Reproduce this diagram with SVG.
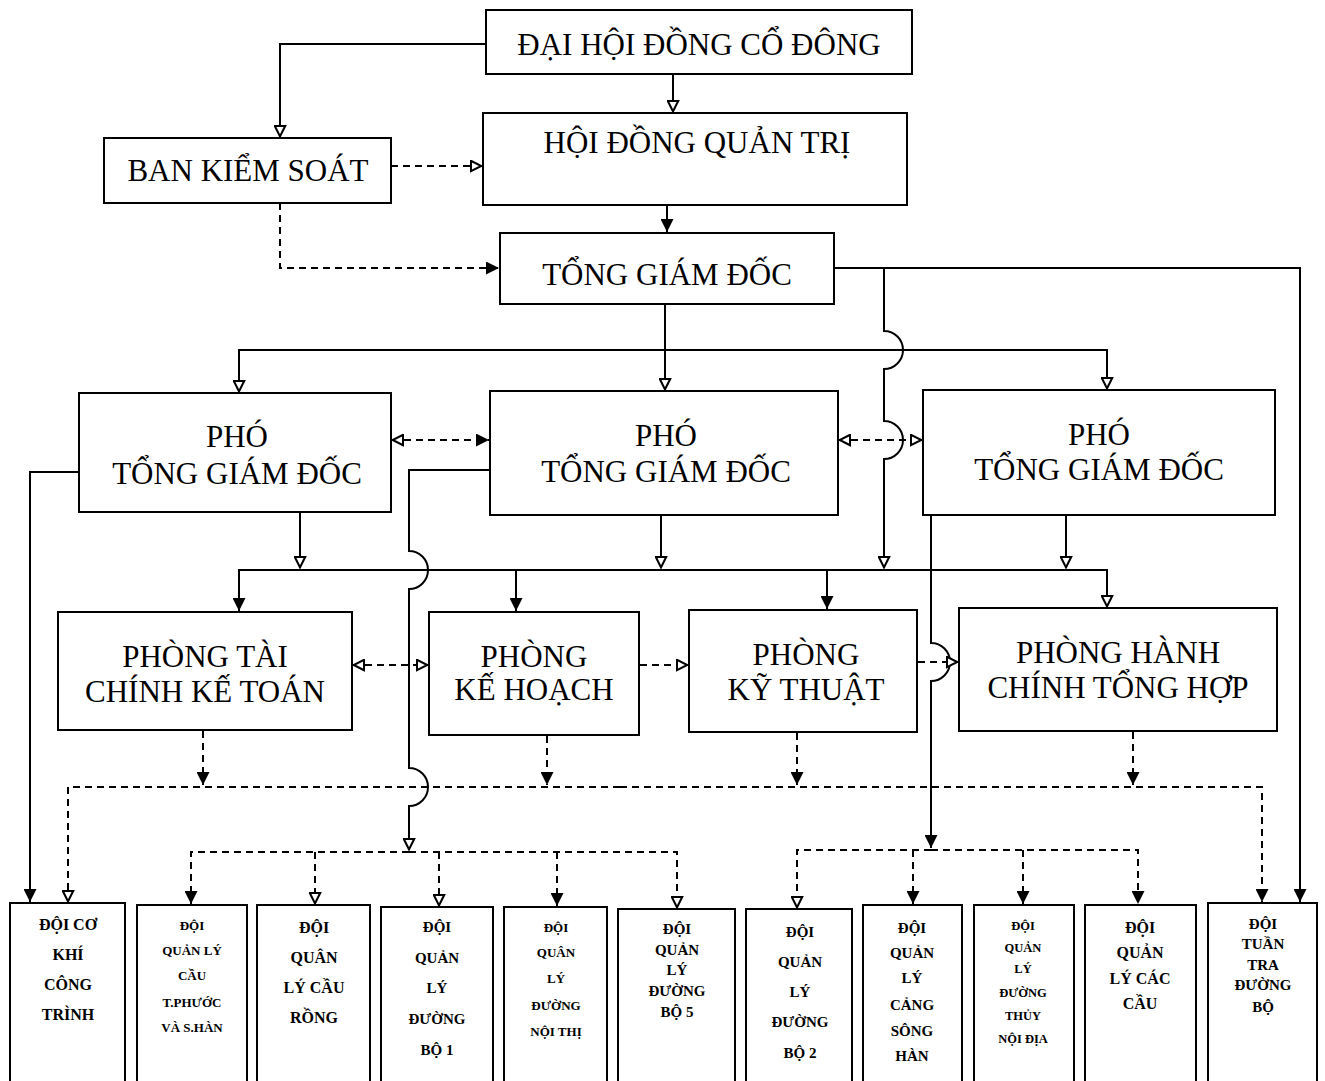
<svg xmlns="http://www.w3.org/2000/svg" width="1325" height="1081" viewBox="0 0 1325 1081">
<style>
.bx{fill:#fff;stroke:#000;stroke-width:2}
.t{font-family:"Liberation Serif","Times New Roman",serif;font-size:31px;text-anchor:middle;fill:#000}
.s{font-family:"Liberation Serif","Times New Roman",serif;font-weight:bold;text-anchor:middle;fill:#000}
.ln{fill:none;stroke:#000;stroke-width:2}
.ds{fill:none;stroke:#000;stroke-width:2;stroke-dasharray:7 5}
</style>
<defs>
<marker id="af" viewBox="0 0 10 10" refX="10" refY="5" markerWidth="13" markerHeight="13" markerUnits="userSpaceOnUse" orient="auto"><path d="M0,0 L10,5 L0,10 z" fill="#000"/></marker>
<marker id="ao" viewBox="0 0 10 10" refX="9.5" refY="5" markerWidth="13" markerHeight="13" markerUnits="userSpaceOnUse" orient="auto-start-reverse"><path d="M1,1 L9,5 L1,9 z" fill="#fff" stroke="#000" stroke-width="1.6"/></marker>
</defs>
<rect width="1325" height="1081" fill="#fff"/>

<g id="connectors">
<path class="ln" d="M486,44 H280 V137" marker-end="url(#ao)"/>
<path class="ln" d="M673,74 V112" marker-end="url(#ao)"/>
<path class="ln" d="M667,205 V232" marker-end="url(#af)"/>
<path class="ln" d="M834,268 H1300 V902" marker-end="url(#af)"/>
<path class="ln" d="M884,268 V331 A19,19 0 0 1 884,369 V421 A19,19 0 0 1 884,459 V568" marker-end="url(#ao)"/>
<path class="ln" d="M665,304 V390" marker-end="url(#ao)"/>
<path class="ln" d="M665,350 H239 V392" marker-end="url(#ao)"/>
<path class="ln" d="M665,350 H1107 V389" marker-end="url(#ao)"/>
<path class="ln" d="M79,472 H30 V902" marker-end="url(#af)"/>
<path class="ln" d="M300,512 V568" marker-end="url(#ao)"/>
<path class="ln" d="M661,515 V568" marker-end="url(#ao)"/>
<path class="ln" d="M1066,515 V568" marker-end="url(#ao)"/>
<path class="ln" d="M490,470 H409 V551 A19,19 0 0 1 409,589 V768 A19,19 0 0 1 409,806 V850" marker-end="url(#ao)"/>
<path class="ln" d="M931,515 V643 A19,19 0 0 1 931,681 V848" marker-end="url(#af)"/>
<path class="ln" d="M516,570 H239 V611" marker-end="url(#af)"/>
<path class="ln" d="M516,570 H1107 V607" marker-end="url(#ao)"/>
<path class="ln" d="M516,570 V611" marker-end="url(#af)"/>
<path class="ln" d="M827,570 V609" marker-end="url(#af)"/>

<path class="ds" d="M391,166 H482" marker-end="url(#ao)"/>
<path class="ds" d="M280,203 V268 H499" marker-end="url(#af)"/>
<path class="ds" d="M392,440 H489" marker-start="url(#ao)" marker-end="url(#af)"/>
<path class="ds" d="M839,440 H922" marker-start="url(#ao)" marker-end="url(#ao)"/>
<path class="ds" d="M353,665 H428" marker-start="url(#ao)" marker-end="url(#ao)"/>
<path class="ds" d="M640,665 H688" marker-start="url(#af)" marker-end="url(#ao)"/>
<path class="ds" d="M918,662 H958" marker-start="url(#af)" marker-end="url(#ao)"/>
<path class="ds" d="M203,731 V785" marker-end="url(#af)"/>
<path class="ds" d="M547,736 V785" marker-end="url(#af)"/>
<path class="ds" d="M797,733 V785" marker-end="url(#af)"/>
<path class="ds" d="M1133,732 V785" marker-end="url(#af)"/>
<path class="ds" d="M620,787 H68 V902" marker-end="url(#ao)"/>
<path class="ds" d="M620,787 H1262 V902" marker-end="url(#af)"/>
<path class="ds" d="M409,852 H191 V904" marker-end="url(#af)"/>
<path class="ds" d="M409,852 H677 V908" marker-end="url(#ao)"/>
<path class="ds" d="M315,852 V904" marker-end="url(#ao)"/>
<path class="ds" d="M439,852 V906" marker-end="url(#ao)"/>
<path class="ds" d="M557,852 V906" marker-end="url(#af)"/>
<path class="ds" d="M931,850 H797 V908" marker-end="url(#ao)"/>
<path class="ds" d="M931,850 H1138 V904" marker-end="url(#af)"/>
<path class="ds" d="M913,850 V904" marker-end="url(#af)"/>
<path class="ds" d="M1023,850 V904" marker-end="url(#af)"/>
</g>

<g id="dai-hoi"><rect class="bx" x="486" y="10" width="426" height="64"/><text class="t" x="699" y="55">ĐẠI HỘI ĐỒNG CỔ ĐÔNG</text></g>
<g id="hdqt"><rect class="bx" x="483" y="113" width="424" height="92"/><text class="t" x="697" y="153">HỘI ĐỒNG QUẢN TRỊ</text></g>
<g id="bks"><rect class="bx" x="104" y="138" width="287" height="65"/><text class="t" x="248" y="181">BAN KIỂM SOÁT</text></g>
<g id="tgd"><rect class="bx" x="500" y="233" width="334" height="71"/><text class="t" x="667" y="285">TỔNG GIÁM ĐỐC</text></g>
<g id="pho-1"><rect class="bx" x="79" y="393" width="312" height="119"/><text class="t" x="237" y="447">PHÓ</text><text class="t" x="237" y="484">TỔNG GIÁM ĐỐC</text></g>
<g id="pho-2"><rect class="bx" x="490" y="391" width="348" height="124"/><text class="t" x="666" y="446">PHÓ</text><text class="t" x="666" y="482">TỔNG GIÁM ĐỐC</text></g>
<g id="pho-3"><rect class="bx" x="923" y="390" width="352" height="125"/><text class="t" x="1099" y="445">PHÓ</text><text class="t" x="1099" y="480">TỔNG GIÁM ĐỐC</text></g>
<g id="p-tckt"><rect class="bx" x="58" y="612" width="294" height="118"/><text class="t" x="205" y="667">PHÒNG TÀI</text><text class="t" x="205" y="702">CHÍNH KẾ TOÁN</text></g>
<g id="p-kh"><rect class="bx" x="429" y="612" width="210" height="123"/><text class="t" x="534" y="667">PHÒNG</text><text class="t" x="534" y="700">KẾ HOẠCH</text></g>
<g id="p-kt"><rect class="bx" x="689" y="610" width="228" height="122"/><text class="t" x="806" y="665">PHÒNG</text><text class="t" x="806" y="700">KỸ THUẬT</text></g>
<g id="p-hcth"><rect class="bx" x="959" y="608" width="318" height="123"/><text class="t" x="1118" y="663">PHÒNG HÀNH</text><text class="t" x="1118" y="698">CHÍNH TỔNG HỢP</text></g>

<g id="d1"><rect class="bx" x="10" y="903" width="115" height="190"/><text class="s" font-size="16" x="68" y="930">ĐỘI CƠ</text><text class="s" font-size="16" x="68" y="960">KHÍ</text><text class="s" font-size="16" x="68" y="990">CÔNG</text><text class="s" font-size="16" x="68" y="1020">TRÌNH</text></g>
<g id="d2"><rect class="bx" x="137" y="905" width="110" height="190"/><text class="s" font-size="13" x="192" y="930">ĐỘI</text><text class="s" font-size="13" x="192" y="955">QUẢN LÝ</text><text class="s" font-size="13" x="192" y="980">CẦU</text><text class="s" font-size="13" x="192" y="1007">T.PHƯỚC</text><text class="s" font-size="13" x="192" y="1032">VÀ S.HÀN</text></g>
<g id="d3"><rect class="bx" x="257" y="905" width="113" height="190"/><text class="s" font-size="16" x="314" y="933">ĐỘI</text><text class="s" font-size="16" x="314" y="963">QUÂN</text><text class="s" font-size="16" x="314" y="993">LÝ CẦU</text><text class="s" font-size="16" x="314" y="1023">RỒNG</text></g>
<g id="d4"><rect class="bx" x="381" y="907" width="112" height="190"/><text class="s" font-size="15" x="437" y="932">ĐỘI</text><text class="s" font-size="15" x="437" y="963">QUẢN</text><text class="s" font-size="15" x="437" y="993">LÝ</text><text class="s" font-size="15" x="437" y="1024">ĐƯỜNG</text><text class="s" font-size="15" x="437" y="1055">BỘ 1</text></g>
<g id="d5"><rect class="bx" x="504" y="907" width="103" height="190"/><text class="s" font-size="13" x="556" y="932">ĐỘI</text><text class="s" font-size="13" x="556" y="957">QUÂN</text><text class="s" font-size="13" x="556" y="983">LÝ</text><text class="s" font-size="13" x="556" y="1010">ĐƯỜNG</text><text class="s" font-size="13" x="556" y="1036">NỘI THỊ</text></g>
<g id="d6"><rect class="bx" x="618" y="909" width="117" height="190"/><text class="s" font-size="15" x="677" y="934">ĐỘI</text><text class="s" font-size="15" x="677" y="955">QUẢN</text><text class="s" font-size="15" x="677" y="975">LÝ</text><text class="s" font-size="15" x="677" y="996">ĐƯỜNG</text><text class="s" font-size="15" x="677" y="1017">BỘ 5</text></g>
<g id="d7"><rect class="bx" x="746" y="909" width="106" height="190"/><text class="s" font-size="15" x="800" y="937">ĐỘI</text><text class="s" font-size="15" x="800" y="967">QUẢN</text><text class="s" font-size="15" x="800" y="997">LÝ</text><text class="s" font-size="15" x="800" y="1027">ĐƯỜNG</text><text class="s" font-size="15" x="800" y="1058">BỘ 2</text></g>
<g id="d8"><rect class="bx" x="863" y="905" width="99" height="190"/><text class="s" font-size="15" x="912" y="933">ĐỘI</text><text class="s" font-size="15" x="912" y="958">QUẢN</text><text class="s" font-size="15" x="912" y="983">LÝ</text><text class="s" font-size="15" x="912" y="1010">CẢNG</text><text class="s" font-size="15" x="912" y="1036">SÔNG</text><text class="s" font-size="15" x="912" y="1061">HÀN</text></g>
<g id="d9"><rect class="bx" x="974" y="905" width="100" height="190"/><text class="s" font-size="12.5" x="1023" y="930">ĐỘI</text><text class="s" font-size="12.5" x="1023" y="952">QUẢN</text><text class="s" font-size="12.5" x="1023" y="973">LÝ</text><text class="s" font-size="12.5" x="1023" y="997">ĐƯỜNG</text><text class="s" font-size="12.5" x="1023" y="1020">THỦY</text><text class="s" font-size="12.5" x="1023" y="1043">NỘI ĐỊA</text></g>
<g id="d10"><rect class="bx" x="1085" y="905" width="111" height="190"/><text class="s" font-size="16" x="1140" y="933">ĐỘI</text><text class="s" font-size="16" x="1140" y="958">QUẢN</text><text class="s" font-size="16" x="1140" y="984">LÝ CÁC</text><text class="s" font-size="16" x="1140" y="1009">CẦU</text></g>
<g id="d11"><rect class="bx" x="1208" y="903" width="109" height="190"/><text class="s" font-size="15" x="1263" y="929">ĐỘI</text><text class="s" font-size="15" x="1263" y="949">TUẦN</text><text class="s" font-size="15" x="1263" y="970">TRA</text><text class="s" font-size="15" x="1263" y="990">ĐƯỜNG</text><text class="s" font-size="15" x="1263" y="1012">BỘ</text></g>
</svg>
